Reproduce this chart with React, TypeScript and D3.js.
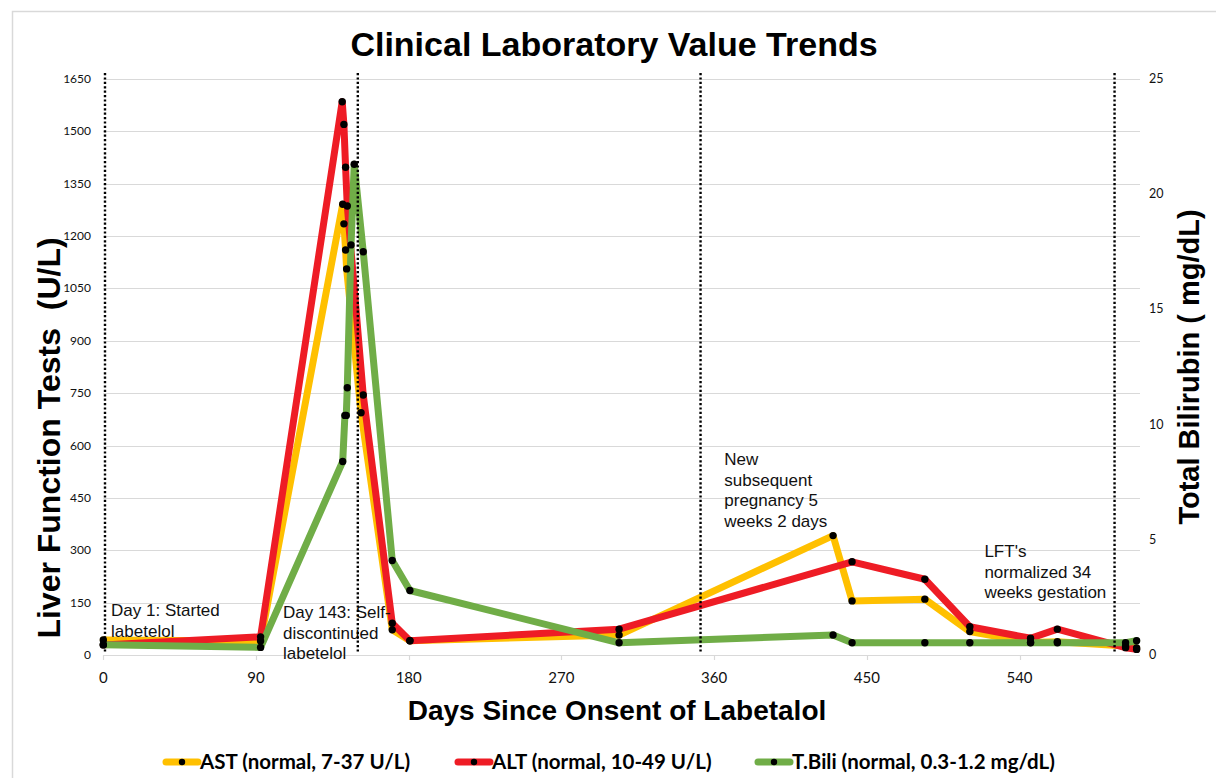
import React, { useEffect, useRef } from "react";
import * as d3 from "d3";

// AST (U/L)
const astDays = [0, 92.7, 141.1, 141.8, 142.8, 143.4, 151.9, 170.3, 180.7, 304, 430.1, 441.3, 484.2, 510.7, 546.5, 562.3, 602.5, 609];
const astValues = [43, 40, 1291, 1235, 1160, 1106, 694, 72, 41, 57, 342, 155, 160, 67, 36, 38, 26, 20];

// ALT (U/L)
const altDays = [0, 92.7, 140.8, 141.8, 142.8, 143.8, 153.2, 170.3, 180.7, 304, 441.3, 484.2, 510.7, 546.5, 562.3, 602.5, 609];
const altValues = [29, 52, 1585, 1520, 1397, 1286, 745, 91, 41, 74, 267, 217, 81, 48, 74, 21, 16];

// Total bilirubin (mg/dL)
const biliDays = [0, 92.7, 141.1, 142.4, 143.2, 143.8, 146, 147.9, 153.2, 170.3, 180.7, 304, 430.1, 441.3, 484.2, 510.7, 546.5, 562.3, 602.5, 609];
const biliValues = [0.45, 0.33, 8.4, 10.4, 10.4, 11.6, 17.8, 21.3, 17.5, 4.1, 2.8, 0.53, 0.87, 0.53, 0.53, 0.53, 0.53, 0.53, 0.53, 0.62];

const lftTicks = [0, 150, 300, 450, 600, 750, 900, 1050, 1200, 1350, 1500, 1650];
const biliTicks = [0, 5, 10, 15, 20, 25];
const dayTicks = [0, 90, 180, 270, 360, 450, 540];

// dotted event markers (days)
const eventDays = [1, 150, 352, 596];

// annotation text: anchor day, anchor LFT value of first baseline, lines
const noteDays = [4.6, 105.9, 366, 519.3];
const noteValues = [112, 106, 544, 281];
const noteLines = [
  ["Day 1: Started", "labetelol"],
  ["Day 143: Self-", "discontinued", "labetelol"],
  ["New", "subsequent", "pregnancy 5", "weeks 2 days"],
  ["LFT's", "normalized 34", "weeks gestation"],
];

const seriesNames = ["AST (normal, 7-37 U/L)", "ALT (normal, 10-49 U/L)", "T.Bili (normal, 0.3-1.2 mg/dL)"];
const seriesColors = ["#FFC000", "#EE1C25", "#70AD47"];

const App = () => {
  const ref = useRef(null);

  useEffect(() => {
    d3.select(ref.current).selectAll("*").remove();

    const width = 1216;
    const height = 778;
    const left = 103.3;
    const right = 1140;
    const top = 79;
    const bottom = 655;

    const x = d3.scaleLinear().domain([0, 611]).range([left, right]);
    const yL = d3.scaleLinear().domain([0, 1650]).range([bottom, top]);
    const yR = d3.scaleLinear().domain([0, 25]).range([bottom, top]);

    const svg = d3
      .select(ref.current)
      .append("svg")
      .attr("width", width)
      .attr("height", height)
      .style("display", "block")
      .style("background", "#fff");

    // outer chart frame
    svg
      .append("rect")
      .attr("x", 12.5)
      .attr("y", 11.5)
      .attr("width", 1300)
      .attr("height", 900)
      .attr("fill", "none")
      .attr("stroke", "#d9d9d9")
      .attr("stroke-width", 1.5);

    const titleFont = "'Liberation Sans', Arial, sans-serif";
    const tickFont = "Lato, 'Liberation Sans', sans-serif";

    // title
    svg
      .append("text")
      .attr("x", 614)
      .attr("y", 56)
      .attr("text-anchor", "middle")
      .style("font-family", titleFont)
      .style("font-weight", "bold")
      .style("font-size", "34px")
      .text("Clinical Laboratory Value Trends");

    // gridlines
    svg
      .append("g")
      .selectAll("line")
      .data(lftTicks)
      .enter()
      .append("line")
      .attr("x1", left)
      .attr("x2", right)
      .attr("y1", (d) => Math.round(yL(d)) + 0.5)
      .attr("y2", (d) => Math.round(yL(d)) + 0.5)
      .attr("stroke", "#d9d9d9")
      .attr("stroke-width", 1.2);

    // x tick marks
    svg
      .append("g")
      .selectAll("line")
      .data(dayTicks)
      .enter()
      .append("line")
      .attr("x1", (d) => Math.round(x(d)) + 0.5)
      .attr("x2", (d) => Math.round(x(d)) + 0.5)
      .attr("y1", bottom)
      .attr("y2", bottom + 5)
      .attr("stroke", "#d9d9d9")
      .attr("stroke-width", 1.2);

    // x tick labels
    svg
      .append("g")
      .selectAll("text")
      .data(dayTicks)
      .enter()
      .append("text")
      .attr("x", (d) => x(d))
      .attr("y", 683)
      .attr("text-anchor", "middle")
      .style("font-family", tickFont)
      .style("font-size", "15px")
      .style("fill", "#111")
      .text((d) => d);

    // left tick labels
    svg
      .append("g")
      .selectAll("text")
      .data(lftTicks)
      .enter()
      .append("text")
      .attr("x", 91)
      .attr("y", (d) => yL(d) + 4)
      .attr("text-anchor", "end")
      .style("font-family", tickFont)
      .style("font-size", "12px")
      .style("fill", "#111")
      .text((d) => d);

    // right tick labels
    svg
      .append("g")
      .selectAll("text")
      .data(biliTicks)
      .enter()
      .append("text")
      .attr("x", 1149)
      .attr("y", (d) => yR(d) + 4)
      .attr("text-anchor", "start")
      .style("font-family", tickFont)
      .style("font-size", "12.5px")
      .style("fill", "#111")
      .text((d) => d);

    // axis titles
    svg
      .append("text")
      .attr("transform", "translate(60,438) rotate(-90)")
      .attr("text-anchor", "middle")
      .style("font-family", titleFont)
      .style("font-weight", "bold")
      .style("font-size", "32px")
      .style("white-space", "pre")
      .text("Liver Function Tests  (U/L)");

    svg
      .append("text")
      .attr("transform", "translate(1199,367) rotate(-90)")
      .attr("text-anchor", "middle")
      .style("font-family", titleFont)
      .style("font-weight", "bold")
      .style("font-size", "29px")
      .text("Total Bilirubin ( mg/dL)");

    svg
      .append("text")
      .attr("x", 617)
      .attr("y", 720)
      .attr("text-anchor", "middle")
      .style("font-family", titleFont)
      .style("font-weight", "bold")
      .style("font-size", "28px")
      .text("Days Since Onsent of Labetalol");

    // series
    const series = [
      { days: astDays, values: astValues, y: yL },
      { days: altDays, values: altValues, y: yL },
      { days: biliDays, values: biliValues, y: yR },
    ];

    series.forEach((s, i) => {
      const pts = s.days.map((d, k) => [x(d), s.y(s.values[k])]);
      svg
        .append("path")
        .attr("d", d3.line()(pts))
        .attr("fill", "none")
        .attr("stroke", seriesColors[i])
        .attr("stroke-width", 7)
        .attr("stroke-linejoin", "round")
        .attr("stroke-linecap", "round");
    });

    series.forEach((s) => {
      svg
        .append("g")
        .selectAll("circle")
        .data(s.days)
        .enter()
        .append("circle")
        .attr("cx", (d) => x(d))
        .attr("cy", (d, k) => s.y(s.values[k]))
        .attr("r", 3.7)
        .attr("fill", "#000");
    });

    // annotations
    noteLines.forEach((lines, i) => {
      const t = svg
        .append("text")
        .attr("x", x(noteDays[i]))
        .attr("y", yL(noteValues[i]))
        .style("font-family", titleFont)
        .style("font-size", "17px")
        .style("fill", "#111");
      lines.forEach((l, j) => {
        t.append("tspan")
          .attr("x", x(noteDays[i]))
          .attr("dy", j === 0 ? 0 : 20.7)
          .text(l);
      });
    });

    // dotted event lines
    svg
      .append("g")
      .selectAll("line")
      .data(eventDays)
      .enter()
      .append("line")
      .attr("x1", (d) => x(d))
      .attr("x2", (d) => x(d))
      .attr("y1", 73)
      .attr("y2", 652)
      .attr("stroke", "#000")
      .attr("stroke-width", 2.4)
      .attr("stroke-dasharray", "2.2,2.2");

    // legend
    const legendX = [166, 458, 758];
    const legend = svg
      .append("g")
      .selectAll("g")
      .data(seriesNames)
      .enter()
      .append("g")
      .attr("transform", (d, i) => `translate(${legendX[i]},762)`);

    legend
      .append("line")
      .attr("x1", 0)
      .attr("x2", 32)
      .attr("stroke", (d, i) => seriesColors[i])
      .attr("stroke-width", 7)
      .attr("stroke-linecap", "round");

    legend.append("circle").attr("cx", 16).attr("r", 3.2).attr("fill", "#000");

    legend
      .append("text")
      .attr("x", 34)
      .attr("y", 7)
      .style("font-family", tickFont)
      .style("font-weight", "bold")
      .style("font-size", "20.5px")
      .text((d) => d);

    return () => {
      // eslint-disable-next-line
      d3.select(ref.current).selectAll("*").remove();
    };
  }, []);

  return (
    <>
      <style>{`body{margin:0}`}</style>
      <div ref={ref}></div>
    </>
  );
};

export default App;
